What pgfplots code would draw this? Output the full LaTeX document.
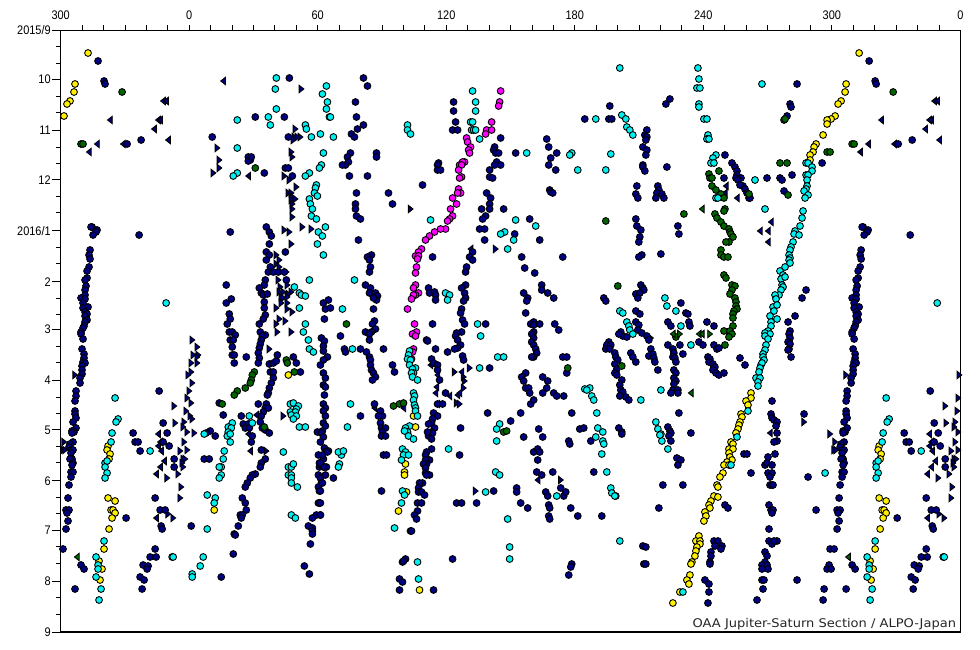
\documentclass[border=0pt]{standalone}
\usepackage{fontspec}
\setmainfont{Liberation Sans}
\newfontfamily\creditfont[FakeStretch=1.09]{DejaVu Sans}
\newfontfamily\tickfont[FakeStretch=0.88]{Liberation Sans}
\usepackage{pgfplots}
\usepackage{pgfplotstable}
\pgfplotsset{compat=1.18}
\definecolor{cnavy}{RGB}{0,0,128}
\definecolor{ccyan}{RGB}{0,240,240}
\definecolor{cyel}{RGB}{255,240,0}
\definecolor{cmag}{RGB}{255,0,255}
\definecolor{cgrn}{RGB}{0,100,0}
\pgfdeclareplotmark{tr}{\pgfpathmoveto{\pgfqpoint{-2.2bp}{-3.7bp}}\pgfpathlineto{\pgfqpoint{2.5bp}{0bp}}\pgfpathlineto{\pgfqpoint{-2.2bp}{3.7bp}}\pgfpathclose\pgfusepathqfillstroke}
\pgfdeclareplotmark{tl}{\pgfpathmoveto{\pgfqpoint{2.2bp}{-3.7bp}}\pgfpathlineto{\pgfqpoint{-2.5bp}{0bp}}\pgfpathlineto{\pgfqpoint{2.2bp}{3.7bp}}\pgfpathclose\pgfusepathqfillstroke}
% Positions read off the picture (picture x, picture y); the plots convert them to longitude and days since 2015/9/1.
\pgfplotstableread[row sep=\\,header=false]{
289 78\\255 117\\284 117\\212 137\\288 137\\248 157\\250 160\\248 161\\251 157\\264 173\\285 168\\288 168\\292 176\\
230 232\\266 227\\269 232\\271 236\\269 244\\266 252\\269 255\\266 260\\285 252\\270 267\\268 272\\273 272\\278 272\\284 272\\265 280\\286 280\\226 285\\264 285\\259 288\\261 293\\263 295\\267 294\\264 302\\264 308\\265 315\\263 319\\259 324\\231 299\\226 303\\229 314\\230 319\\227 324\\229 332\\232 332\\235 335\\230 340\\233 340\\232 347\\232 355\\234 355\\234 363\\246 357\\260 332\\265 335\\262 336\\261 340\\260 344\\259 348\\258 353\\259 358\\258 363\\269 364\\273 363\\276 361\\277 355\\293 357\\296 363\\270 372\\273 372\\273 378\\271 383\\269 388\\268 393\\267 395\\300 372\\258 404\\266 404\\265 408\\268 408\\263 412\\261 416\\260 422\\262 428\\241 416\\243 424\\248 424\\245 428\\249 428\\223 415\\219 403\\210 431\\206 433\\265 430\\269 433\\
363 78\\367 86\\355 102\\356 117\\363 125\\357 129\\351 134\\354 137\\350 153\\347 157\\348 162\\345 165\\342 165\\349 176\\367 176\\376 153\\376 157\\356 193\\355 204\\355 209\\356 216\\360 219\\388 193\\392 204\\422 185\\438 163\\437 165\\437 170\\440 170\\453 102\\453 111\\455 122\\452 130\\457 130\\500 138\\494 147\\493 150\\495 153\\498 153\\515 153\\496 162\\494 165\\500 165\\489 170\\489 177\\492 178\\486 193\\490 198\\489 204\\489 209\\481 209\\503 209\\485 216\\482 219\\546 139\\548 147\\550 158\\556 153\\548 165\\555 170\\549 190\\550 192\\552 193\\529 219\\584 119\\609 106\\608 119\\611 119\\636 186\\635 194\\637 198\\646 130\\644 135\\646 137\\645 140\\642 147\\646 150\\645 155\\642 165\\642 167\\644 171\\635 219\\
358 240\\371 255\\367 257\\369 260\\370 267\\369 272\\432 257\\365 285\\370 288\\369 293\\375 293\\377 296\\376 300\\373 298\\373 309\\328 300\\323 303\\325 309\\330 308\\324 319\\374 321\\372 324\\365 332\\375 329\\371 332\\369 334\\369 340\\340 336\\432 324\\426 340\\427 341\\344 349\\345 352\\360 349\\383 349\\366 352\\369 357\\370 360\\370 365\\371 370\\373 373\\375 377\\372 380\\392 365\\394 372\\321 338\\324 341\\323 346\\323 351\\327 357\\323 360\\320 365\\323 373\\325 378\\323 385\\325 387\\324 395\\323 404\\325 408\\323 411\\325 416\\323 423\\325 426\\322 431\\
479 229\\484 229\\484 240\\472 252\\469 257\\472 260\\466 267\\465 272\\465 285\\461 288\\464 293\\465 298\\463 301\\461 309\\460 313\\462 320\\464 324\\485 324\\461 332\\456 333\\455 336\\457 340\\460 345\\457 348\\454 349\\447 352\\435 349\\428 288\\429 293\\434 292\\435 295\\435 300\\462 356\\463 360\\431 359\\433 363\\437 365\\437 370\\439 380\\445 393\\437 404\\442 404\\489 368\\487 413\\460 428\\433 413\\437 416\\432 419\\431 423\\428 424\\434 428\\431 432\\380 411\\382 416\\378 416\\374 404\\380 423\\381 428\\385 428\\382 432\\360 416\\
514 234\\539 240\\521 257\\562 257\\524 268\\534 273\\541 285\\541 290\\547 293\\553 298\\523 293\\527 298\\526 301\\525 313\\533 322\\530 324\\533 325\\539 324\\554 324\\558 330\\533 332\\531 334\\533 338\\531 342\\533 345\\535 349\\536 353\\533 357\\531 357\\562 357\\566 357\\566 373\\525 373\\521 377\\523 381\\542 377\\547 381\\546 388\\542 393\\525 388\\528 388\\529 393\\530 404\\533 400\\553 393\\556 396\\563 396\\571 413\\520 413\\510 421\\538 429\\579 429\\583 428\\618 428\\621 432\\
636 226\\640 230\\639 237\\638 242\\641 255\\638 257\\603 298\\605 301\\635 294\\640 285\\642 288\\643 290\\639 293\\637 298\\635 311\\639 314\\635 322\\638 325\\637 330\\641 333\\646 336\\648 340\\620 332\\622 336\\626 337\\618 334\\608 342\\606 345\\610 345\\605 349\\609 349\\614 353\\615 357\\617 360\\614 364\\616 369\\614 373\\616 375\\630 353\\632 357\\635 362\\621 380\\619 385\\620 390\\622 392\\619 396\\625 397\\628 400\\648 356\\
669 99\\665 104\\666 167\\657 186\\658 190\\656 193\\661 194\\655 198\\663 198\\724 155\\796 84\\789 104\\790 107\\786 116\\731 163\\734 167\\736 171\\736 175\\735 178\\740 178\\737 180\\723 178\\766 178\\779 178\\781 180\\791 175\\783 191\\821 163\\868 61\\874 81\\875 84\\911 140\\897 144\\742 186\\739 185\\744 189\\746 193\\748 198\\749 198\\
677 226\\678 234\\660 254\\680 303\\685 313\\687 314\\667 322\\670 326\\688 322\\689 326\\706 322\\713 326\\667 345\\679 345\\672 349\\673 353\\672 357\\674 358\\675 362\\682 354\\698 342\\702 345\\713 345\\716 349\\718 348\\707 357\\709 359\\708 362\\712 364\\714 367\\712 370\\715 373\\718 375\\723 373\\739 358\\744 365\\650 349\\652 354\\653 358\\654 362\\657 370\\673 370\\675 373\\673 378\\675 381\\673 384\\672 390\\670 393\\677 390\\677 393\\678 413\\667 427\\669 431\\670 433\\690 433\\771 401\\770 414\\771 418\\773 420\\776 422\\775 426\\776 433\\803 414\\794 316\\787 322\\801 298\\805 290\\789 331\\788 334\\789 338\\787 342\\789 344\\788 349\\787 350\\790 357\\
862 227\\861 227\\867 230\\866 232\\863 235\\860 250\\859 255\\860 259\\859 267\\857 271\\857 278\\855 280\\856 286\\855 290\\855 295\\851 298\\855 299\\853 303\\858 307\\853 308\\855 312\\857 314\\855 316\\857 320\\855 322\\854 326\\853 328\\851 332\\851 334\\853 339\\852 349\\854 354\\854 358\\853 362\\855 363\\852 366\\852 370\\852 374\\850 378\\850 383\\846 391\\846 396\\845 401\\845 411\\845 414\\846 418\\843 422\\846 428\\842 431\\844 432\\909 235\\929 391\\933 423\\937 433\\903 433\\
215 436\\204 459\\209 459\\251 442\\252 436\\261 450\\265 459\\261 463\\260 467\\255 474\\252 475\\250 478\\247 483\\245 487\\242 498\\245 503\\246 510\\240 515\\242 515\\241 518\\238 526\\234 534\\235 535\\233 554\\221 577\\191 526\\317 432\\321 433\\323 437\\320 442\\324 448\\318 455\\323 459\\326 451\\319 463\\319 467\\321 465\\323 467\\326 467\\318 475\\320 478\\325 475\\321 483\\318 487\\319 491\\318 503\\319 503\\316 515\\320 515\\312 518\\308 526\\312 528\\312 531\\312 534\\310 544\\304 566\\309 574\\328 451\\
327 452\\322 455\\320 463\\324 467\\333 478\\322 483\\320 491\\320 503\\320 515\\381 491\\383 455\\386 455\\381 436\\385 436\\431 449\\426 452\\425 455\\429 460\\425 460\\426 464\\423 464\\425 468\\425 473\\429 475\\426 475\\422 483\\419 483\\418 488\\418 492\\421 492\\424 495\\417 503\\421 503\\417 511\\414 515\\416 519\\410 531\\411 531\\428 436\\432 433\\431 439\\427 432\\405 559\\402 562\\403 561\\399 579\\402 582\\399 590\\433 590\\452 559\\459 455\\456 503\\461 503\\476 503\\493 491\\516 488\\516 492\\520 503\\527 508\\523 437\\542 437\\533 452\\537 449\\539 452\\537 460\\536 472\\541 475\\552 472\\545 492\\547 496\\563 496\\560 488\\565 492\\548 505\\549 508\\570 508\\548 516\\549 519\\577 516\\601 516\\568 441\\569 444\\590 441\\593 472\\621 434\\642 546\\645 547\\643 564\\645 564\\571 564\\570 567\\568 575\\615 496\\
668 436\\670 441\\676 458\\680 460\\677 465\\662 485\\682 485\\658 508\\724 505\\727 508\\743 454\\746 454\\750 473\\776 441\\773 442\\774 454\\767 457\\764 465\\766 463\\771 465\\767 473\\771 473\\769 477\\769 485\\771 485\\772 485\\768 505\\770 510\\772 510\\771 513\\768 529\\768 541\\776 541\\771 544\\773 541\\713 541\\717 541\\714 546\\721 546\\720 549\\710 552\\710 556\\709 562\\709 564\\704 580\\708 584\\708 592\\707 603\\764 552\\766 556\\764 562\\761 565\\766 565\\767 569\\761 569\\761 580\\763 580\\762 589\\756 600\\796 580\\842 433\\843 442\\840 444\\839 447\\841 450\\843 450\\841 453\\842 459\\840 459\\843 463\\842 465\\841 472\\843 472\\841 477\\839 485\\838 498\\836 510\\839 510\\837 513\\838 521\\836 529\\815 510\\807 477\\829 549\\833 549\\828 565\\826 569\\830 569\\823 589\\822 600\\845 589\\851 565\\854 569\\905 442\\908 442\\910 451\\896 518\\925 498\\930 510\\935 510\\931 526\\932 529\\925 549\\920 557\\926 557\\913 565\\918 566\\917 569\\910 577\\914 580\\912 589\\933 442\\939 446\\944 459\\944 467\\
}\tabNavy
\pgfplotstableread[row sep=\\,header=false]{
276 78\\275 89\\326 86\\322 94\\327 102\\326 109\\276 109\\268 117\\329 117\\237 120\\270 125\\305 125\\306 129\\320 134\\311 137\\237 148\\323 153\\321 165\\319 168\\237 173\\233 176\\309 173\\305 176\\316 185\\315 188\\314 193\\317 196\\309 199\\310 204\\312 209\\311 216\\316 219\\
309 280\\294 287\\299 293\\301 295\\305 296\\299 308\\305 324\\303 332\\308 340\\309 349\\313 352\\290 404\\293 403\\298 406\\290 412\\296 409\\295 412\\291 415\\296 416\\293 419\\299 427\\305 427\\249 416\\252 423\\232 423\\228 427\\231 428\\228 432\\204 434\\323 255\\317 244\\318 232\\322 236\\325 227\\
472 91\\475 102\\475 111\\470 122\\472 122\\471 130\\473 130\\475 130\\479 139\\407 125\\407 130\\410 134\\333 137\\330 117\\526 153\\571 153\\569 155\\577 170\\605 170\\610 154\\595 119\\619 68\\621 115\\625 119\\626 127\\629 130\\632 135\\430 220\\515 220\\
354 280\\342 309\\535 226\\504 232\\500 234\\513 240\\507 249\\445 293\\449 295\\447 300\\477 324\\480 336\\352 349\\497 357\\503 357\\479 368\\619 311\\622 313\\626 322\\628 326\\629 330\\632 334\\409 351\\408 355\\407 359\\410 360\\409 365\\415 368\\412 369\\413 373\\411 373\\412 377\\417 380\\413 393\\414 396\\413 400\\414 405\\415 408\\415 411\\417 416\\350 404\\347 427\\409 426\\405 428\\407 432\\404 431\\596 413\\584 389\\589 388\\586 390\\591 396\\593 400\\640 400\\597 428\\602 432\\499 424\\496 429\\
697 68\\698 79\\696 88\\699 88\\698 104\\698 107\\703 119\\706 119\\707 135\\706 139\\708 139\\715 155\\712 158\\710 163\\713 163\\754 180\\761 84\\715 198\\717 198\\764 209\\805 163\\807 163\\811 167\\811 171\\805 175\\807 175\\806 180\\806 186\\805 189\\803 191\\807 195\\804 198\\802 211\\801 218\\
799 226\\794 231\\793 234\\798 235\\792 242\\790 247\\789 250\\788 255\\789 258\\788 260\\789 263\\784 267\\779 271\\782 275\\780 279\\784 277\\781 285\\782 287\\780 290\\778 295\\774 295\\775 299\\772 307\\776 305\\773 311\\769 316\\776 319\\770 322\\770 326\\767 331\\764 333\\769 334\\764 336\\767 339\\765 345\\764 350\\762 354\\762 357\\763 360\\760 365\\761 363\\759 368\\758 372\\755 378\\759 378\\757 382\\757 386\\664 298\\666 306\\675 311\\680 326\\690 345\\660 390\\655 422\\657 429\\660 434\\747 411\\936 303\\885 398\\888 419\\886 422\\882 433\\
227 436\\230 434\\230 442\\224 451\\223 459\\221 467\\219 467\\221 475\\219 478\\207 495\\215 498\\214 503\\207 529\\203 557\\200 566\\192 574\\192 577\\283 452\\288 467\\291 467\\293 464\\288 475\\291 475\\291 478\\291 483\\297 487\\291 515\\295 518\\
341 455\\338 452\\343 451\\339 464\\338 467\\402 449\\405 452\\403 455\\408 455\\401 460\\402 491\\404 495\\401 503\\394 528\\417 562\\418 579\\448 449\\485 492\\495 472\\499 475\\507 519\\509 547\\509 559\\496 441\\556 496\\606 472\\601 454\\610 488\\611 493\\614 496\\602 441\\603 444\\595 437\\619 541\\408 436\\413 439\\
661 441\\667 449\\659 435\\736 437\\730 465\\824 473\\881 442\\920 451\\875 463\\877 461\\875 467\\877 473\\875 478\\874 541\\866 557\\868 565\\868 569\\866 577\\871 589\\869 600\\942 557\\943 557\\682 592\\
}\tabCyan
\pgfplotstableread[row sep=\\,header=false]{
288 375\\293 416\\413 416\\415 427\\858 53\\845 84\\844 92\\840 101\\837 104\\834 116\\830 119\\826 120\\826 124\\822 135\\815 144\\813 147\\812 152\\809 155\\809 160\\750 393\\750 398\\745 401\\747 405\\740 414\\741 417\\739 422\\738 425\\737 429\\735 433\\214 510\\405 464\\404 472\\404 475\\406 492\\398 511\\419 590\\730 442\\732 444\\728 449\\732 449\\728 453\\729 457\\731 460\\726 462\\723 465\\728 465\\722 473\\719 477\\716 485\\717 487\\713 496\\717 497\\710 501\\708 505\\709 508\\704 512\\705 516\\703 521\\698 536\\695 541\\699 541\\699 544\\696 547\\695 551\\694 556\\691 562\\690 564\\689 575\\686 580\\688 584\\679 592\\672 603\\878 446\\877 450\\880 454\\879 459\\878 498\\885 501\\881 510\\883 510\\885 513\\882 518\\879 529\\874 549\\869 561\\872 569\\870 580\\
}\tabYellow
\pgfplotstableread[row sep=\\,header=false]{
500 91\\499 102\\498 106\\491 122\\486 130\\485 134\\491 130\\466 138\\467 142\\470 147\\468 150\\469 153\\464 162\\462 162\\459 165\\461 165\\458 170\\461 177\\459 178\\458 189\\460 193\\457 193\\452 198\\456 204\\450 209\\452 216\\449 219\\447 221\\445 229\\440 229\\434 232\\429 236\\425 240\\421 249\\418 252\\415 256\\418 256\\417 259\\416 267\\415 273\\415 285\\413 288\\418 293\\415 295\\413 295\\411 299\\407 309\\414 324\\416 332\\412 334\\415 336\\413 349\\412 352\\411 359\\
}\tabMagenta
\pgfplotstableread[row sep=\\,header=false]{
255 168\\286 360\\287 363\\294 372\\254 372\\252 375\\251 380\\250 383\\245 388\\237 391\\234 395\\222 404\\264 427\\605 221\\617 286\\346 324\\567 368\\621 366\\393 406\\399 404\\403 403\\503 432\\506 431\\892 92\\851 144\\853 144\\826 152\\829 152\\783 120\\784 119\\779 163\\786 163\\718 171\\708 174\\709 178\\711 178\\711 186\\715 190\\720 194\\723 198\\787 195\\748 194\\724 209\\723 211\\714 214\\716 218\\683 214\\720 222\\723 226\\728 229\\729 232\\730 234\\732 237\\728 242\\725 242\\720 250\\720 255\\723 257\\727 257\\723 275\\725 278\\731 285\\734 286\\731 290\\729 294\\734 298\\735 302\\735 306\\736 309\\733 311\\732 314\\732 318\\732 326\\723 331\\729 331\\731 334\\728 337\\724 345\\675 337\\
}\tabGreen
\pgfplotstableread[row sep=\\,header=false]{
301 89\\295 129\\294 137\\297 137\\300 137\\293 140\\217 148\\291 152\\292 157\\219 160\\219 168\\213 173\\284 176\\289 180\\296 187\\288 193\\291 193\\292 197\\295 199\\291 200\\292 204\\292 209\\292 217\\284 230\\289 232\\302 227\\311 229\\291 244\\276 255\\279 260\\276 264\\279 267\\278 280\\286 272\\287 285\\280 287\\279 292\\283 292\\291 292\\288 294\\281 297\\283 298\\287 297\\281 303\\287 303\\276 308\\287 309\\292 312\\279 319\\285 321\\276 324\\277 332\\291 332\\269 349\\283 416\\192 340\\197 347\\198 355\\197 357\\193 355\\191 363\\197 363\\191 372\\192 383\\189 391\\191 403\\190 416\\192 419\\194 433\\266 451\\
410 209\\495 249\\469 368\\454 372\\463 377\\464 381\\463 388\\456 403\\459 404\\475 491\\560 480\\803 422\\650 338\\845 375\\958 375\\957 398\\944 406\\956 411\\945 423\\954 422\\953 427\\957 432\\829 434\\834 442\\833 450\\835 450\\954 442\\950 451\\957 450\\953 459\\955 459\\952 463\\953 467\\948 474\\937 478\\951 487\\950 498\\943 518\\938 514\\
}\tabTR
\pgfplotstableread[row sep=\\,header=false]{
223 81\\248 176\\256 415\\248 434\\250 451\\470 249\\437 375\\436 387\\435 393\\457 395\\461 372\\459 393\\449 396\\437 404\\374 408\\403 408\\430 365\\537 480\\933 101\\936 101\\880 120\\928 120\\930 120\\924 129\\938 140\\867 144\\893 144\\859 152\\725 186\\736 198\\724 193\\759 231\\767 231\\770 222\\767 242\\769 433\\928 434\\930 442\\928 446\\931 451\\934 461\\930 467\\926 474\\926 518\\
}\tabTL
\pgfplotstableread[row sep=\\,header=false]{
701 209\\672 334\\698 334\\701 334\\690 393\\847 557\\
}\tabGTL
\pgfplotstableread[row sep=\\,header=false]{
679 334\\709 334\\
}\tabGTR
\newcommand\series[2]{%
\addplot[only marks,#2] table[x expr=(\thisrowno{0}-189)/2.139,y expr=(\thisrowno{1}-30.3)/1.644]{#1};
\addplot[only marks,#2,restrict x to domain=-61:0.5] table[x expr=(\thisrowno{0}-189)/2.139-360,y expr=(\thisrowno{1}-30.3)/1.644]{#1};}
\begin{document}
\begin{tikzpicture}[x=1bp,y=1bp]
\path[use as bounding box] (0,0) rectangle (980,650);
\begin{axis}[
  at={(60.7bp,18bp)},anchor=south west,
  scale only axis,width=899.6bp,height=601.7bp,
  xmin=-60,xmax=360,ymin=0,ymax=366,y dir=reverse,
  axis line style={line width=1.1bp},
  xtick={-60,0,60,120,180,240,300,360},
  xticklabels={300,0,60,120,180,240,300,0},
  minor xtick={-50,-40,-30,-20,-10,0,10,20,30,40,50,60,70,80,90,100,110,120,130,140,150,160,170,180,190,200,210,220,230,240,250,260,270,280,290,300,310,320,330,340,350},
  ytick={0,30,61,91,122,153,182,213,243,274,304,335,366},
  yticklabels={2015/9,10,11,12,2016/1,2,3,4,5,6,7,8,9},
  minor ytick={10,20,40,50,71,81,101,111,132,142,163,173,192,202,223,233,253,263,284,294,314,324,345,355},
  xtick pos=upper,xticklabel pos=upper,ytick pos=lower,
  tick align=outside,
  major tick length=9bp,minor tick length=5bp,
  major x tick style={draw=none},
  tick style={black,line width=0.8bp},
  yticklabel style={font=\tickfont\fontsize{12.5}{13}\selectfont,xshift=2.5bp},
  xticklabel style={font=\tickfont\fontsize{12.5}{13}\selectfont,yshift=-2bp},
  /pgf/number format/assume math mode=true,
  every axis plot/.append style={line width=0.9bp},
]
\series{\tabTR}{mark=tr,mark options={draw=black,fill=cnavy}}
\series{\tabTL}{mark=tl,mark options={draw=black,fill=cnavy}}
\series{\tabNavy}{mark=*,mark size=3.4bp,mark options={draw=black,fill=cnavy}}
\series{\tabGreen}{mark=*,mark size=3.4bp,mark options={draw=black,fill=cgrn}}
\series{\tabGTL}{mark=tl,mark options={draw=black,fill=cgrn}}
\series{\tabGTR}{mark=tr,mark options={draw=black,fill=cgrn}}
\series{\tabYellow}{mark=*,mark size=3.4bp,mark options={draw=black,fill=cyel}}
\series{\tabMagenta}{mark=*,mark size=3.4bp,mark options={draw=black,fill=cmag}}
\series{\tabCyan}{mark=*,mark size=3.4bp,mark options={draw=black,fill=ccyan}}
\node[anchor=base east,inner sep=0pt,font=\creditfont\fontsize{12}{13}\selectfont,text=black!85] at (rel axis cs:0.9955,0.008) {OAA Jupiter-Saturn Section / ALPO-Japan};
\end{axis}
\end{tikzpicture}
\end{document}
